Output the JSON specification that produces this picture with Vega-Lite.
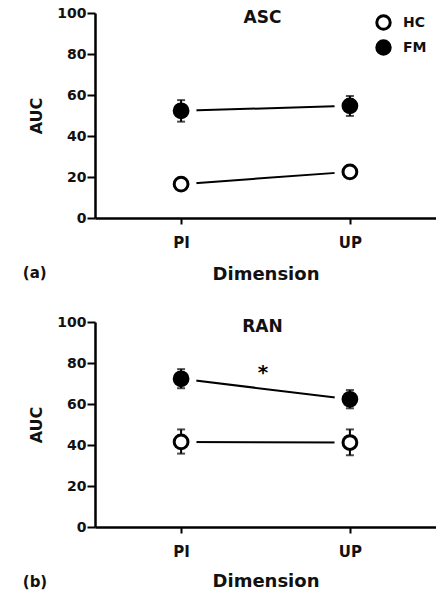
{
  "$schema": "https://vega.github.io/schema/vega-lite/v6.json",
  "background": "white",
  "padding": {"left": 22, "top": 6, "right": 0, "bottom": 0},
  "spacing": 32,
  "config": {
    "font": "DejaVu Sans",
    "view": {"stroke": null},
    "axis": {
      "domainColor": "black", "domainWidth": 2.5, "tickColor": "black", "tickWidth": 2,
      "tickSize": 6, "labelFont": "DejaVu Sans", "labelFontWeight": "bold", "labelFontSize": 13,
      "labelColor": "#111", "titleFont": "DejaVu Sans", "titleFontWeight": "bold", "titleColor": "#111",
      "grid": false
    },
    "title": {"font": "DejaVu Sans", "fontWeight": "bold", "color": "#111"}
  },
  "datasets": {
    "asc": [
      {"group": "HC", "dimension": "PI", "mean": 16.5, "lo": 15.5, "hi": 17.5},
      {"group": "HC", "dimension": "UP", "mean": 22.5, "lo": 20.5, "hi": 24.5},
      {"group": "FM", "dimension": "PI", "mean": 52.3, "lo": 47, "hi": 57.5},
      {"group": "FM", "dimension": "UP", "mean": 54.7, "lo": 49.8, "hi": 59.5}
    ],
    "ran": [
      {"group": "HC", "dimension": "PI", "mean": 41.5, "lo": 35.8, "hi": 47.6},
      {"group": "HC", "dimension": "UP", "mean": 41.2, "lo": 35, "hi": 47.6},
      {"group": "FM", "dimension": "PI", "mean": 72.3, "lo": 67.7, "hi": 77},
      {"group": "FM", "dimension": "UP", "mean": 62.3, "lo": 57.9, "hi": 66.8}
    ]
  },
  "vconcat": [
    {
      "title": {"text": "(a)", "orient": "bottom", "anchor": "start", "offset": -17, "dx": -6, "fontSize": 15},
      "vconcat": [
        {
          "width": 341, "height": 205,
          "title": {"text": "ASC", "offset": -21, "fontSize": 17, "dx": -3},
          "data": {"name": "asc"},
          "encoding": {
            "x": {"field": "dimension", "type": "ordinal", "scale": {"type": "point", "padding": 0.51, "domain": ["PI", "UP"]},
                  "axis": {"title": "Dimension", "labelAngle": 0, "labelPadding": 11, "labelFontSize": 15, "titleFontSize": 18, "titlePadding": 15}}
          },
          "layer": [
            {"mark": {"type": "line", "color": "black", "strokeWidth": 2},
             "encoding": {"y": {"field": "mean", "type": "quantitative", "scale": {"domain": [0, 100]},
                          "axis": {"values": [0, 20, 40, 60, 80, 100], "title": "AUC", "titleFontSize": 16, "titlePadding": 12, "labelPadding": 1, "tickSize": 8, "labelFontSize": 14}},
                          "detail": {"field": "group"}}},
            {"mark": {"type": "point", "shape": "circle", "filled": true, "color": "white", "opacity": 1, "size": 950},
             "encoding": {"y": {"field": "mean", "type": "quantitative"}}},
            {"mark": {"type": "rule", "color": "black", "strokeWidth": 2},
             "encoding": {"y": {"field": "lo", "type": "quantitative"}, "y2": {"field": "hi"}}},
            {"mark": {"type": "tick", "color": "black", "size": 8, "thickness": 2},
             "encoding": {"y": {"field": "lo", "type": "quantitative"}}},
            {"mark": {"type": "tick", "color": "black", "size": 8, "thickness": 2},
             "encoding": {"y": {"field": "hi", "type": "quantitative"}}},
            {"mark": {"type": "point", "shape": "circle", "filled": true, "stroke": "black", "strokeWidth": 3, "size": 190, "opacity": 1},
             "encoding": {
               "y": {"field": "mean", "type": "quantitative"},
               "fill": {"field": "group", "type": "nominal", "scale": {"domain": ["HC", "FM"], "range": ["white", "black"]},
                        "legend": {"orient": "none", "legendX": 280, "legendY": 1, "title": null, "labelFontSize": 14,
                                   "labelFont": "DejaVu Sans", "labelFontWeight": "bold", "labelColor": "#111",
                                   "symbolType": "circle", "symbolSize": 180, "symbolStrokeColor": "black", "symbolStrokeWidth": 3,
                                   "rowPadding": -2, "labelOffset": 11}}
             }}
          ]
        }
      ]
    },
    {
      "title": {"text": "(b)", "orient": "bottom", "anchor": "start", "offset": -15, "dx": -6, "fontSize": 15},
      "vconcat": [
        {
          "width": 341, "height": 205,
          "title": {"text": "RAN", "offset": -21, "fontSize": 17, "dx": -3},
          "encoding": {
            "x": {"field": "dimension", "type": "ordinal", "scale": {"type": "point", "padding": 0.51, "domain": ["PI", "UP"]},
                  "axis": {"title": "Dimension", "labelAngle": 0, "labelPadding": 11, "labelFontSize": 15, "titleFontSize": 18, "titlePadding": 13}}
          },
          "layer": [
            {"data": {"name": "ran"}, "mark": {"type": "line", "color": "black", "strokeWidth": 2},
             "encoding": {"y": {"field": "mean", "type": "quantitative", "scale": {"domain": [0, 100]},
                          "axis": {"values": [0, 20, 40, 60, 80, 100], "title": "AUC", "titleFontSize": 16, "titlePadding": 12, "labelPadding": 1, "tickSize": 8, "labelFontSize": 14}},
                          "detail": {"field": "group"}}},
            {"data": {"name": "ran"}, "mark": {"type": "point", "shape": "circle", "filled": true, "color": "white", "opacity": 1, "size": 950},
             "encoding": {"y": {"field": "mean", "type": "quantitative"}}},
            {"data": {"name": "ran"}, "mark": {"type": "rule", "color": "black", "strokeWidth": 2},
             "encoding": {"y": {"field": "lo", "type": "quantitative"}, "y2": {"field": "hi"}}},
            {"data": {"name": "ran"}, "mark": {"type": "tick", "color": "black", "size": 8, "thickness": 2},
             "encoding": {"y": {"field": "lo", "type": "quantitative"}}},
            {"data": {"name": "ran"}, "mark": {"type": "tick", "color": "black", "size": 8, "thickness": 2},
             "encoding": {"y": {"field": "hi", "type": "quantitative"}}},
            {"data": {"name": "ran"}, "mark": {"type": "point", "shape": "circle", "filled": true, "stroke": "black", "strokeWidth": 3, "size": 190, "opacity": 1},
             "encoding": {
               "y": {"field": "mean", "type": "quantitative"},
               "fill": {"field": "group", "type": "nominal", "scale": {"domain": ["HC", "FM"], "range": ["white", "black"]},
                        "legend": {"orient": "none", "legendX": 280, "legendY": 1, "title": null, "labelFontSize": 14,
                                   "labelFont": "DejaVu Sans", "labelFontWeight": "bold", "labelColor": "#111",
                                   "symbolType": "circle", "symbolSize": 180, "symbolStrokeColor": "black", "symbolStrokeWidth": 3,
                                   "rowPadding": -2, "labelOffset": 11}}
             }},
            {"data": {"values": [{"label": "*", "dimension": "PI", "value": 75}]},
             "mark": {"type": "text", "fontSize": 20, "fontWeight": "bold", "color": "black", "dx": 82, "baseline": "middle"},
             "encoding": {"text": {"field": "label"}, "y": {"field": "value", "type": "quantitative"}}}
          ]
        }
      ]
    }
  ]
}
